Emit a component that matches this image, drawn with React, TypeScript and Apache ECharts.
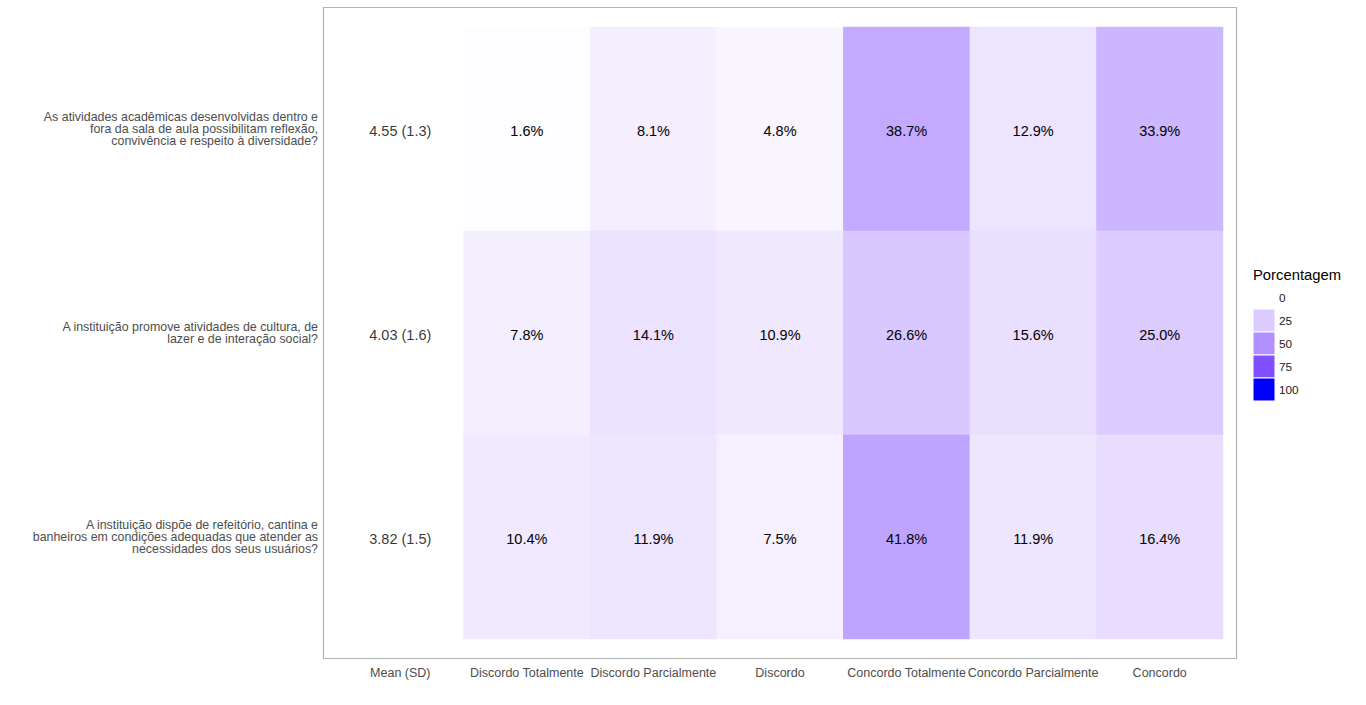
import React, { useEffect, useRef } from "react";
import * as echarts from "echarts";

const columns = [
  "Mean (SD)",
  "Discordo Totalmente",
  "Discordo Parcialmente",
  "Discordo",
  "Concordo Totalmente",
  "Concordo Parcialmente",
  "Concordo",
];

// top to bottom
const questions = [
  "As atividades acadêmicas desenvolvidas dentro e\nfora da sala de aula possibilitam reflexão,\nconvivência e respeito à diversidade?",
  "A instituição promove atividades de cultura, de\nlazer e de interação social?",
  "A instituição dispõe de refeitório, cantina e\nbanheiros em condições adequadas que atender as\nnecessidades dos seus usuários?",
];

const meanSd = ["4.55 (1.3)", "4.03 (1.6)", "3.82 (1.5)"];

const q1Pct = [1.6, 8.1, 4.8, 38.7, 12.9, 33.9];
const q2Pct = [7.8, 14.1, 10.9, 26.6, 15.6, 25.0];
const q3Pct = [10.4, 11.9, 7.5, 41.8, 11.9, 16.4];
const pctRows = [q1Pct, q2Pct, q3Pct];

const legendValues = [0, 25, 50, 75, 100];
const legendColors = ["#ffffff", "#dccbff", "#b08fff", "#7f50ff", "#0000ff"];
const legendTitle = "Porcentagem";

export default function App() {
  const ref = useRef<HTMLDivElement>(null);

  useEffect(() => {
    if (!ref.current) return;
    const chart = echarts.init(ref.current, null, { renderer: "svg" });

    const heatData: any[] = [];
    pctRows.forEach((row, r) => {
      row.forEach((v, c) => heatData.push([c + 1, r, v]));
    });
    const meanData = meanSd.map((t, r) => [0, r, t]);

    const font = "'Liberation Sans', Arial, sans-serif";

    const legendGraphics: any[] = [
      {
        type: "text",
        left: 1253,
        top: 267,
        style: { text: legendTitle, fontSize: 14.8, fill: "#000", fontFamily: font },
      },
    ];
    legendValues.forEach((v, i) => {
      legendGraphics.push({
        type: "rect",
        shape: { x: 1253, y: 286 + 23 * i, width: 22, height: 23 },
        style: { fill: legendColors[i], stroke: "#ffffff", lineWidth: 1 },
      });
      legendGraphics.push({
        type: "text",
        x: 1279,
        y: 298 + 23 * i,
        style: {
          text: String(v),
          fontSize: 11.8,
          fill: "#1a1a1a",
          fontFamily: font,
          verticalAlign: "middle",
          textAlign: "left",
        },
      });
    });

    chart.setOption({
      animation: false,
      backgroundColor: "#ffffff",
      textStyle: { fontFamily: font },
      grid: { left: 337, right: 143, top: 27, bottom: 66, containLabel: false },
      xAxis: {
        type: "category",
        data: columns,
        axisLine: { show: false },
        axisTick: { show: false },
        splitLine: { show: false },
        axisLabel: { color: "#4d4d4d", fontSize: 12.5, margin: 27, interval: 0, fontFamily: font },
      },
      yAxis: {
        type: "category",
        data: questions,
        inverse: true,
        axisLine: { show: false },
        axisTick: { show: false },
        splitLine: { show: false },
        axisLabel: {
          color: "#4d4d4d",
          fontSize: 12.4,
          lineHeight: 12,
          margin: 19,
          align: "right",
          padding: [9, 0, 0, 0],
          fontFamily: font,
        },
      },
      visualMap: {
        show: false,
        type: "continuous",
        min: 0,
        max: 100,
        seriesIndex: 0,
        dimension: 2,
        inRange: { color: legendColors },
      },
      graphic: [
        {
          type: "rect",
          shape: { x: 323.5, y: 7.5, width: 913, height: 651 },
          style: { fill: "none", stroke: "#b3b3b3", lineWidth: 1.2 },
          z: 10,
        },
        ...legendGraphics,
      ],
      series: [
        {
          type: "heatmap",
          data: heatData,
          label: {
            show: true,
            color: "#000",
            fontSize: 14.5,
            offset: [0, 2],
            fontFamily: font,
            formatter: (p: any) => Number(p.value[2]).toFixed(1) + "%",
          },
          emphasis: { disabled: true },
          itemStyle: { borderWidth: 0 },
        },
        {
          type: "scatter",
          data: meanData,
          symbol: "rect",
          symbolSize: 1,
          itemStyle: { color: "rgba(0,0,0,0)" },
          label: {
            show: true,
            position: "inside",
            color: "#000",
            fontSize: 14.5,
            offset: [0, 2],
            fontFamily: font,
            formatter: (p: any) => p.value[2],
          },
          emphasis: { disabled: true },
        },
      ],
    });

    return () => chart.dispose();
  }, []);

  return (
    <div
      ref={ref}
      style={{ position: "absolute", left: 0, top: 0, width: 1366, height: 705 }}
    />
  );
}
